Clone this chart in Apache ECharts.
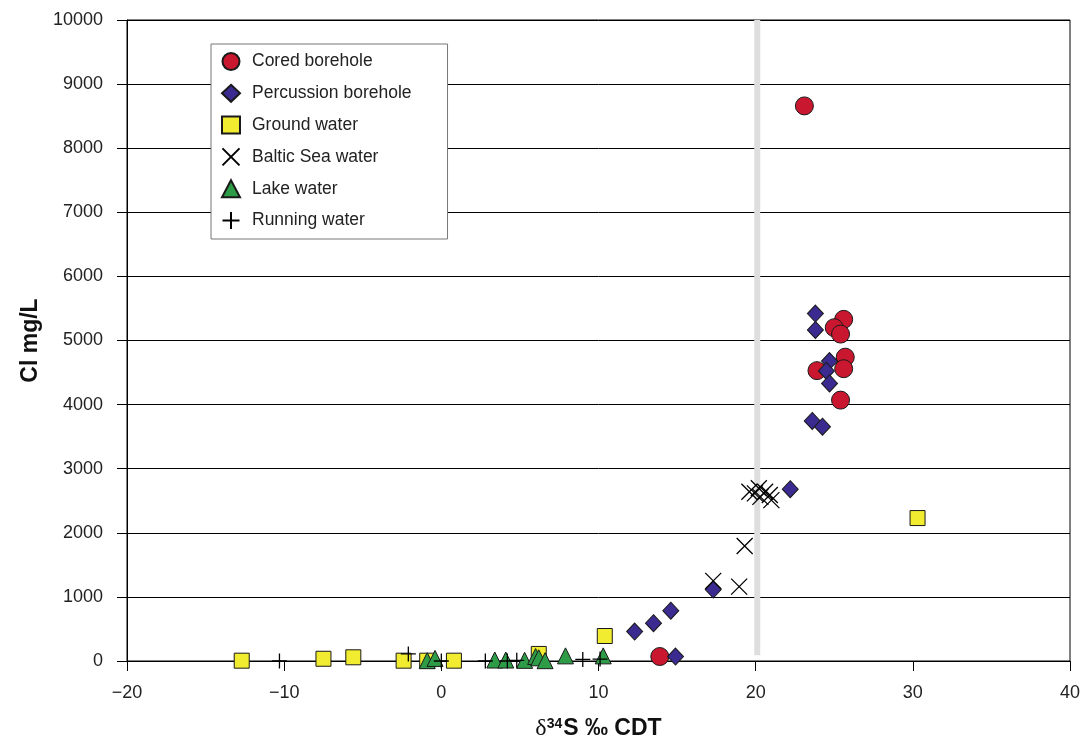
<!DOCTYPE html>
<html>
<head>
<meta charset="utf-8">
<script src="https://cdn.jsdelivr.net/npm/echarts@6/dist/echarts.min.js"></script>
<style>
  html, body { margin: 0; padding: 0; background: #fff; }
  #chart { width: 1086px; height: 740px; }
</style>
</head>
<body>
<div id="chart"></div>
<script>
// δ34S (‰ CDT) versus chloride (mg/L) for each water type
const coredBorehole = [
  [23.1, 8660], [25.6, 5330], [25.0, 5200], [25.4, 5100], [25.7, 4740],
  [25.6, 4560], [23.9, 4530], [25.4, 4070], [13.9, 70]
];
const percussionBorehole = [
  [23.8, 5420], [23.8, 5165], [24.7, 4680], [24.5, 4525], [24.7, 4330],
  [23.6, 3745], [24.25, 3655], [22.2, 2680], [17.3, 1115], [14.6, 785],
  [13.5, 590], [12.3, 460], [14.9, 70]
];
const groundWater = [
  [-12.7, 5], [-7.5, 35], [-5.6, 58], [-2.4, 5], [-0.9, 5], [0.8, 5],
  [6.2, 110], [10.4, 390], [30.3, 2230]
];
const balticSeaWater = [
  [19.6, 2640], [20.2, 2695], [19.95, 2615], [20.6, 2640], [20.9, 2590],
  [21.0, 2510], [20.3, 2560], [19.3, 1795], [17.3, 1250], [18.95, 1160]
];
const lakeWater = [
  [-0.9, 5], [-0.4, 40], [3.4, 15], [4.1, 15], [5.3, 10], [6.0, 70],
  [6.2, 50], [6.6, 5], [7.9, 80], [10.3, 80]
];
const runningWater = [
  [-10.3, 0], [-2.1, 110], [0.0, 0], [2.8, 0], [4.2, 0], [4.8, 10],
  [9.0, 25], [10.1, 30]
];
// vertical reference line at δ34S ≈ 20 ‰
const referenceLine = [[20.1, 90], [20.1, 10000]];

const seriesNames = [
  'Cored borehole', 'Percussion borehole', 'Ground water',
  'Baltic Sea water', 'Lake water', 'Running water'
];

const FONT = '"Liberation Sans", Arial, Helvetica, sans-serif';
const crossPath = 'path://M0,0L10,10M10,0L0,10';
const plusPath = 'path://M5,0L5,10M0,5L10,5';

const chart = echarts.init(document.getElementById('chart'), null, { renderer: 'canvas' });

function filled(color) {
  return { color: color, borderColor: '#1a1a1a', borderWidth: 1, opacity: 1 };
}
function stroked() {
  return { color: 'rgba(0,0,0,0)', borderColor: '#000', borderWidth: 1.3, opacity: 1 };
}

chart.setOption({
  animation: false,
  backgroundColor: '#fff',
  textStyle: { fontFamily: FONT },
  grid: {
    left: 127, right: 16, top: 20, bottom: 79,
    outerBoundsMode: 'none', containLabel: false,
    show: true, borderColor: '#000', borderWidth: 1
  },
  legend: {
    orient: 'vertical',
    left: 211, top: 44,
    padding: [8, 36, 9, 10],
    itemWidth: 18, itemHeight: 17, itemGap: 12.8,
    borderColor: '#777', borderWidth: 1,
    backgroundColor: '#fff',
    data: seriesNames,
    textStyle: { fontSize: 17.5, color: '#222', fontFamily: FONT, padding: [0, 0, 0, 7] }
  },
  xAxis: {
    type: 'value', min: -20, max: 40, interval: 10,
    name: '{d|δ}{sup|34}{b|S ‰ CDT}', nameLocation: 'middle', nameGap: 56,
    nameTextStyle: {
      color: '#111',
      rich: {
        d: { fontSize: 24, fontFamily: '"Liberation Serif", "Times New Roman", serif', color: '#111' },
        sup: { fontSize: 14, fontWeight: 'bold', fontFamily: FONT, color: '#111', verticalAlign: 'top', padding: [0, 1, 0, 0] },
        b: { fontSize: 23, fontWeight: 'bold', fontFamily: FONT, color: '#111' }
      }
    },
    axisLine: { show: true, onZero: false, lineStyle: { color: '#000', width: 1 } },
    axisTick: { show: true, inside: false, length: 10, lineStyle: { color: '#000' } },
    axisLabel: {
      fontSize: 18, color: '#222', margin: 23, fontFamily: FONT,
      formatter: v => (v < 0 ? '−' + Math.abs(v) : String(v))
    },
    splitLine: { show: false }
  },
  yAxis: {
    type: 'value', min: 0, max: 10000, interval: 1000,
    name: 'Cl mg/L', nameLocation: 'middle', nameGap: 80,
    nameTextStyle: { fontSize: 23, fontWeight: 'bold', color: '#111', fontFamily: FONT },
    axisLine: { show: true, onZero: false, lineStyle: { color: '#000', width: 1 } },
    axisTick: { show: true, inside: false, length: 10, lineStyle: { color: '#000' } },
    axisLabel: { fontSize: 18, color: '#222', margin: 24, fontFamily: FONT, formatter: v => String(v) },
    splitLine: { show: true, lineStyle: { color: '#000', width: 1 } }
  },
  series: [
    {
      name: 'divider', type: 'line', data: referenceLine, silent: true,
      symbol: 'none', z: 1,
      lineStyle: { color: '#dedede', width: 6 }
    },
    {
      name: seriesNames[0], type: 'scatter', data: coredBorehole,
      symbol: 'circle', symbolSize: 18, itemStyle: filled('#c8172f'), z: 3
    },
    {
      name: seriesNames[1], type: 'scatter', data: percussionBorehole,
      symbol: 'diamond', symbolSize: [16, 17], itemStyle: filled('#3b2a8f'), z: 3
    },
    {
      name: seriesNames[2], type: 'scatter', data: groundWater,
      symbol: 'rect', symbolSize: 15, itemStyle: filled('#f1ec30'), z: 3
    },
    {
      name: seriesNames[3], type: 'scatter', data: balticSeaWater,
      symbol: crossPath, symbolSize: 16, itemStyle: stroked(), z: 3
    },
    {
      name: seriesNames[4], type: 'scatter', data: lakeWater,
      symbol: 'triangle', symbolSize: [16, 16], itemStyle: filled('#2e9c47'), z: 3
    },
    {
      name: seriesNames[5], type: 'scatter', data: runningWater,
      symbol: plusPath, symbolSize: 15, itemStyle: stroked(), z: 3
    }
  ]
});
</script>
</body>
</html>
